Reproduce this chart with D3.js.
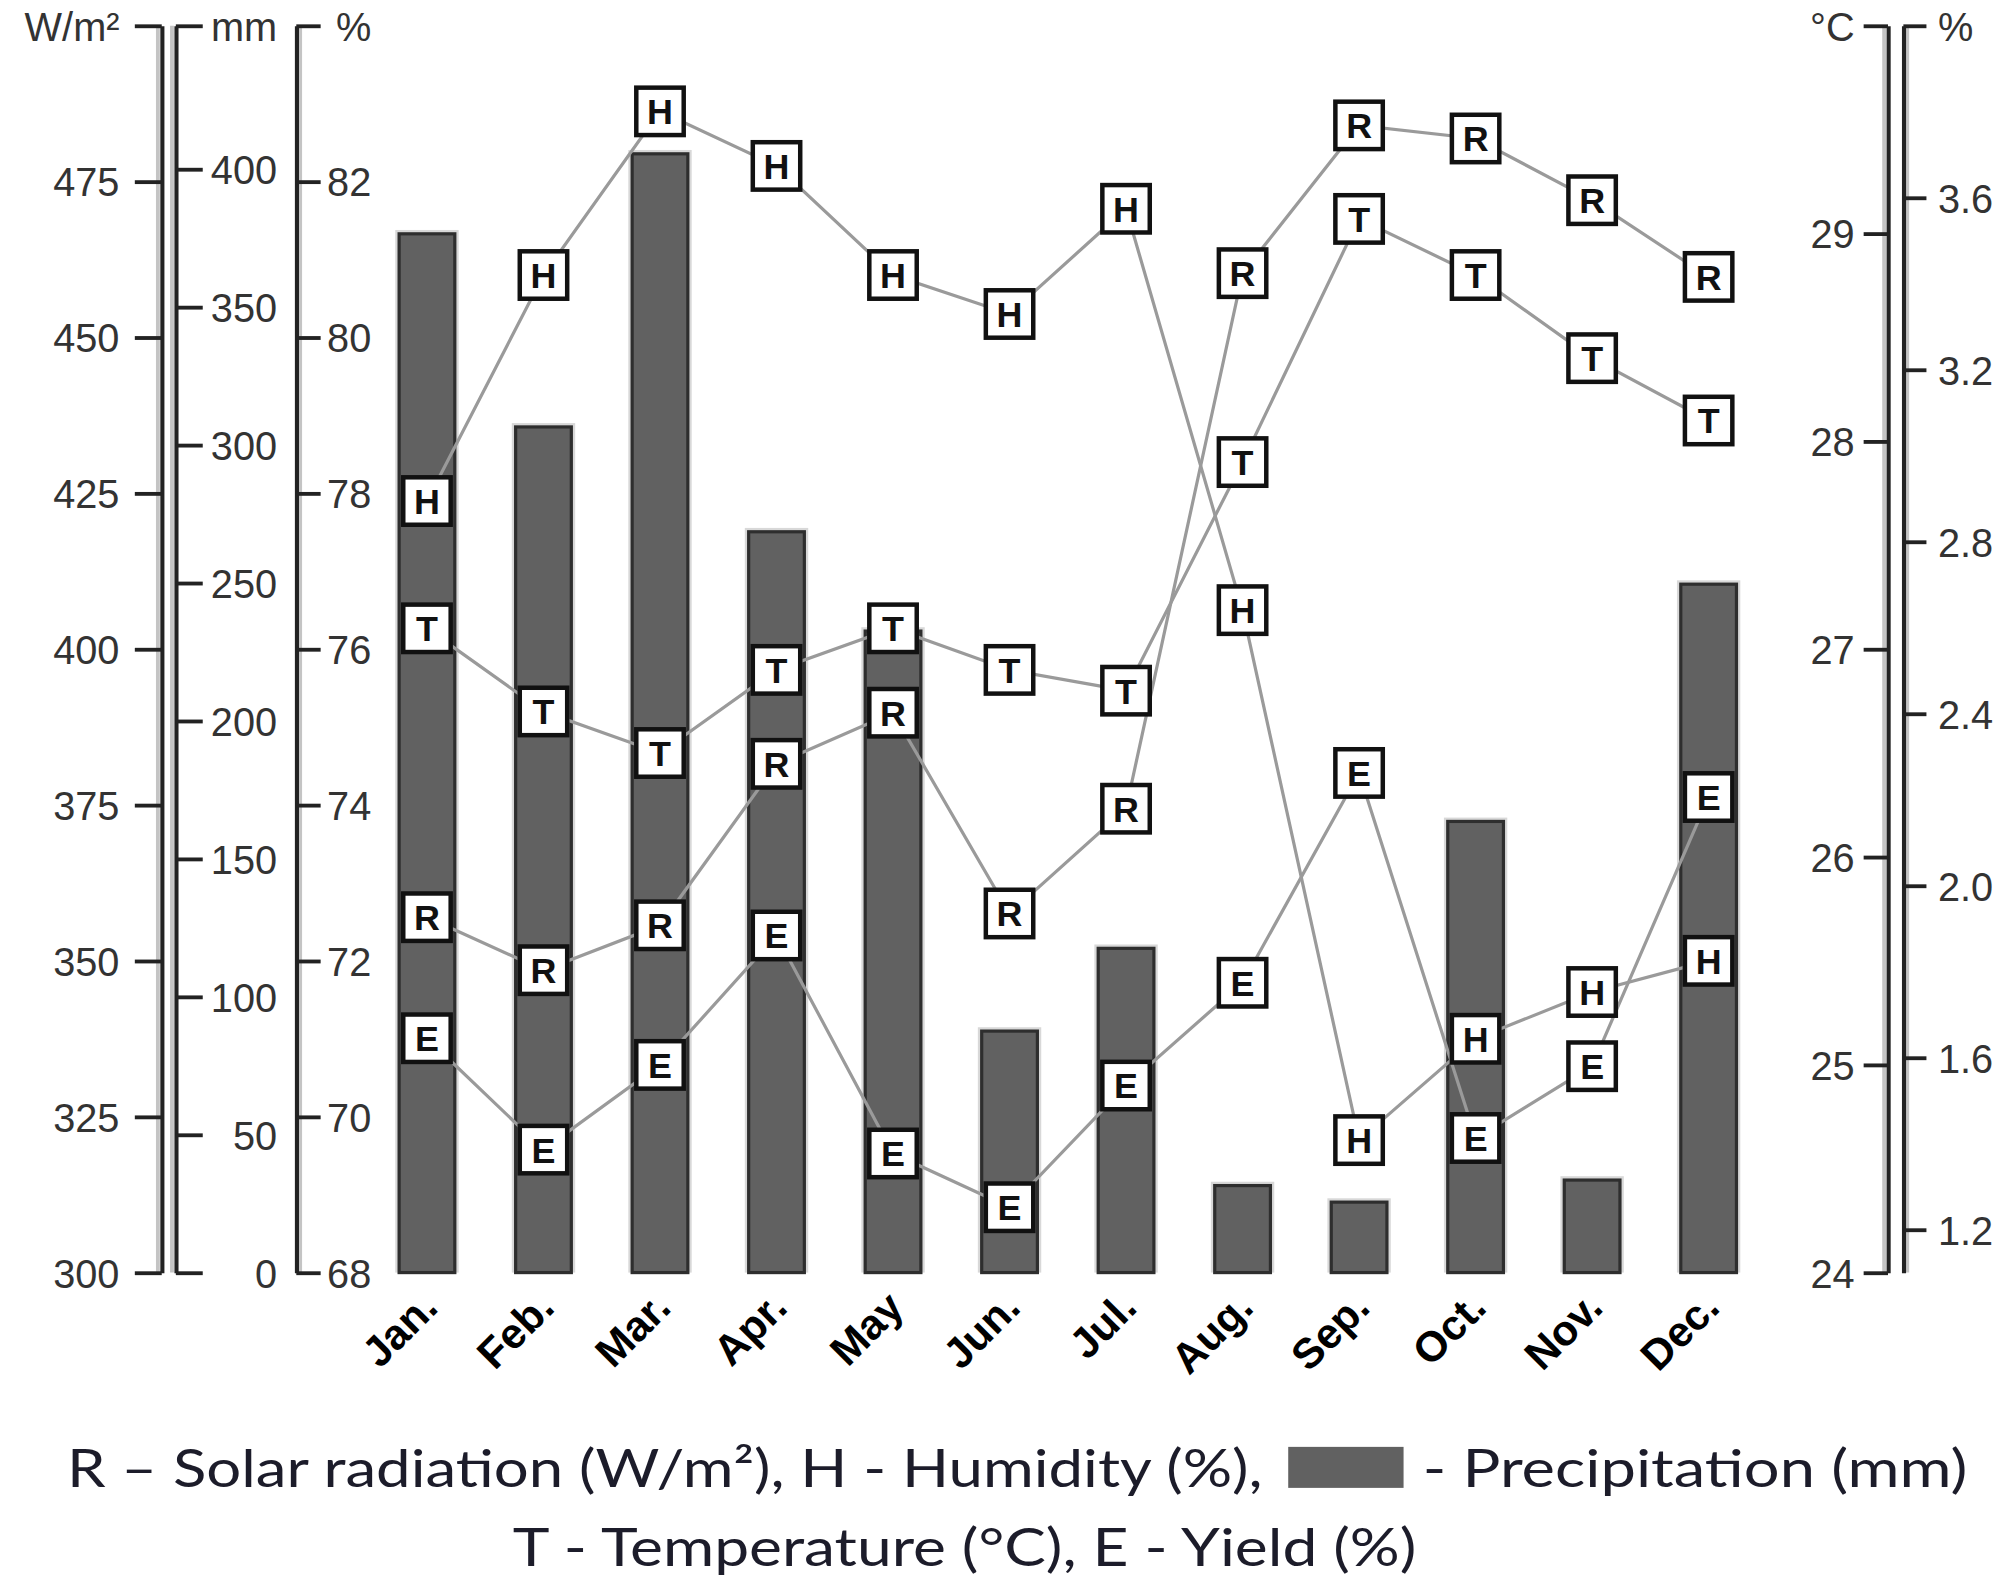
<!DOCTYPE html>
<html>
<head>
<meta charset="utf-8">
<script src="https://cdnjs.cloudflare.com/ajax/libs/d3/7.8.5/d3.min.js"></script>
<style>
  body { margin: 0; background: #fff; }
  svg { display: block; }
</style>
</head>
<body>
<div id="chart"></div>
<script>
// monthly data
var months = ["Jan.", "Feb.", "Mar.", "Apr.", "May", "Jun.", "Jul.", "Aug.", "Sep.", "Oct.", "Nov.", "Dec."];
var precipitation = [377, 307, 406, 269, 233, 88, 118, 32, 26, 164, 34, 250];          // mm
var humidity = [77.9, 80.8, 82.9, 82.2, 80.8, 80.3, 81.65, 76.5, 69.7, 71.0, 71.6, 72.0]; // %
var temperature = [27.1, 26.7, 26.5, 26.9, 27.1, 26.9, 26.8, 27.9, 29.07, 28.8, 28.4, 28.1]; // °C
var radiation = [357, 348.5, 355.7, 381.6, 389.8, 357.6, 374.4, 460.3, 484, 481.9, 472, 459.7]; // W/m²
var yieldPct = [1.645, 1.386, 1.583, 1.884, 1.377, 1.252, 1.535, 1.774, 2.262, 1.413, 1.58, 2.206]; // %

// axis ticks
var radTicks = [300, 325, 350, 375, 400, 425, 450, 475, 500];
var mmTicks = [0, 50, 100, 150, 200, 250, 300, 350, 400, 452];
var humTicks = [68, 70, 72, 74, 76, 78, 80, 82, 84];
var tempTicks = [24, 25, 26, 27, 28, 29, 30];
var yieldTicks = [1.2, 1.6, 2.0, 2.4, 2.8, 3.2, 3.6, 4.0];

var W = 1568, H = 1236; // drawing units, scaled to 2010x1584
var plotTop = 20, plotBottom = 993;

var svg = d3.select("#chart").append("svg")
  .attr("width", 2010)
  .attr("height", 1584)
  .attr("viewBox", "0 0 " + W + " " + H);

// scales
var x = d3.scaleBand().domain(months).range([287.5, 1378.5]).paddingInner(0.5).paddingOuter(0.25);
var yRad = d3.scaleLinear().domain([300, 500]).range([plotBottom, plotTop]);
var yMm = d3.scaleLinear().domain([0, 452]).range([plotBottom, plotTop]);
var yHum = d3.scaleLinear().domain([68, 84]).range([plotBottom, plotTop]);
var yTemp = d3.scaleLinear().domain([24, 30]).range([plotBottom, plotTop]);
var yYield = d3.scaleLinear().domain([1.1, 4.0]).range([plotBottom, plotTop]);

function cx(m) { return x(m) + x.bandwidth() / 2; }

// draws an axis with a faint shadow line next to it
function drawAxis(axis, xpos, shadowDx, topLabel, topVal, labelDx, anchor) {
  svg.append("line")
    .attr("x1", xpos + shadowDx).attr("x2", xpos + shadowDx)
    .attr("y1", plotTop).attr("y2", plotBottom)
    .attr("stroke", "#c4c4c4").attr("stroke-width", 3);
  var g = svg.append("g")
    .attr("transform", "translate(" + xpos + ",0)")
    .call(axis);
  g.select(".domain").attr("stroke", "#222").attr("stroke-width", 3.2);
  g.selectAll(".tick line").attr("stroke", "#222").attr("stroke-width", 3);
  g.selectAll(".tick text")
    .attr("fill", "#333")
    .style("font-family", "'Liberation Sans', Arial, sans-serif")
    .style("font-size", "31px")
    .attr("dy", "0.36em")
    .attr("x", labelDx)
    .attr("text-anchor", anchor)
    .text(function(d) { return d === topVal ? topLabel : d3.format(".4~")(d); });
  return g;
}

var radAxis = d3.axisLeft(yRad).tickValues(radTicks).tickSize(21).tickSizeOuter(0);
drawAxis(radAxis, 126, -3, "W/m²", 500, -33, "end");

var mmAxis = d3.axisRight(yMm).tickValues(mmTicks).tickSize(21).tickSizeOuter(0);
drawAxis(mmAxis, 137, -3, "mm", 452, 79, "end");

var humAxis = d3.axisRight(yHum).tickValues(humTicks).tickSize(19).tickSizeOuter(0);
var gh = drawAxis(humAxis, 231, 3, "%", 84, 24, "start");
gh.selectAll(".tick text").filter(function(d) { return d === 84; }).attr("x", 31);

var tempAxis = d3.axisLeft(yTemp).tickValues(tempTicks).tickSize(19).tickSizeOuter(0);
drawAxis(tempAxis, 1473, -3, "°C", 30, -26, "end");

var yieldAxis = d3.axisRight(yYield).tickValues(yieldTicks).tickSize(18).tickSizeOuter(0);
var gy = drawAxis(yieldAxis, 1485, 3, "%", 4.0, 27, "start");
gy.selectAll(".tick text").text(function(d) { return d === 4.0 ? "%" : d3.format(".1f")(d); });

// precipitation bars
var barData = months.map(function(m, i) { return { m: m, v: precipitation[i] }; });
svg.append("g").selectAll("rect.halo")
  .data(barData).enter().append("rect")
  .attr("x", function(d) { return x(d.m) - 2; })
  .attr("y", function(d) { return yMm(d.v) - 2; })
  .attr("width", x.bandwidth() + 4)
  .attr("height", function(d) { return plotBottom - yMm(d.v) + 2; })
  .attr("fill", "#d8d8d8");
svg.append("g").selectAll("rect.bar")
  .data(barData).enter().append("rect")
  .attr("x", function(d) { return x(d.m) + 1; })
  .attr("y", function(d) { return yMm(d.v) + 1; })
  .attr("width", x.bandwidth() - 2)
  .attr("height", function(d) { return plotBottom - yMm(d.v) - 1; })
  .attr("fill", "#616161")
  .attr("stroke", "#2e2e2e")
  .attr("stroke-width", 2.5);

// lines + lettered markers
var series = [
  { letter: "H", vals: humidity, y: yHum },
  { letter: "T", vals: temperature, y: yTemp },
  { letter: "R", vals: radiation, y: yRad },
  { letter: "E", vals: yieldPct, y: yYield }
];

series.forEach(function(s) {
  var line = d3.line()
    .x(function(d, i) { return cx(months[i]); })
    .y(function(d) { return s.y(d); });
  svg.append("path")
    .datum(s.vals)
    .attr("fill", "none")
    .attr("stroke", "#9a9a9a")
    .attr("stroke-width", 2.5)
    .attr("d", line);
});

var box = 37;
series.forEach(function(s) {
  var g = svg.append("g").selectAll("g")
    .data(s.vals).enter().append("g")
    .attr("transform", function(d, i) { return "translate(" + cx(months[i]) + "," + s.y(d) + ")"; });
  g.append("rect")
    .attr("x", -box / 2).attr("y", -box / 2)
    .attr("width", box).attr("height", box)
    .attr("fill", "#fff")
    .attr("stroke", "#111")
    .attr("stroke-width", 3.5);
  g.append("text")
    .attr("text-anchor", "middle")
    .attr("dy", "0.36em")
    .style("font-family", "'Liberation Sans', Arial, sans-serif")
    .style("font-weight", "bold")
    .style("font-size", "28px")
    .attr("fill", "#111")
    .text(s.letter);
});

// month labels, rotated
svg.append("g").selectAll("text")
  .data(months).enter().append("text")
  .attr("transform", function(m) { return "translate(" + (cx(m) + 10) + ",1022) rotate(-45)"; })
  .attr("text-anchor", "end")
  .style("font-family", "'Liberation Sans', Arial, sans-serif")
  .style("font-weight", "bold")
  .style("font-size", "33px")
  .attr("fill", "#000")
  .text(function(m) { return m; });

// legend
var legFont = "Lato, 'Open Sans', sans-serif";
svg.append("text")
  .attr("x", 52).attr("y", 1160)
  .attr("textLength", 933).attr("lengthAdjust", "spacingAndGlyphs")
  .style("font-family", legFont).style("font-size", "41px").attr("fill", "#1c1c2a")
  .text("R \u2013 Solar radiation (W/m²),  H - Humidity (%),");
svg.append("rect")
  .attr("x", 1005).attr("y", 1129).attr("width", 90).attr("height", 32)
  .attr("fill", "#616161");
svg.append("text")
  .attr("x", 1110).attr("y", 1160)
  .attr("textLength", 425).attr("lengthAdjust", "spacingAndGlyphs")
  .style("font-family", legFont).style("font-size", "41px").attr("fill", "#1c1c2a")
  .text("- Precipitation (mm)");
svg.append("text")
  .attr("x", 400).attr("y", 1222)
  .attr("textLength", 705).attr("lengthAdjust", "spacingAndGlyphs")
  .style("font-family", legFont).style("font-size", "41px").attr("fill", "#1c1c2a")
  .text("T - Temperature (°C),  E - Yield (%)");
</script>
</body>
</html>
